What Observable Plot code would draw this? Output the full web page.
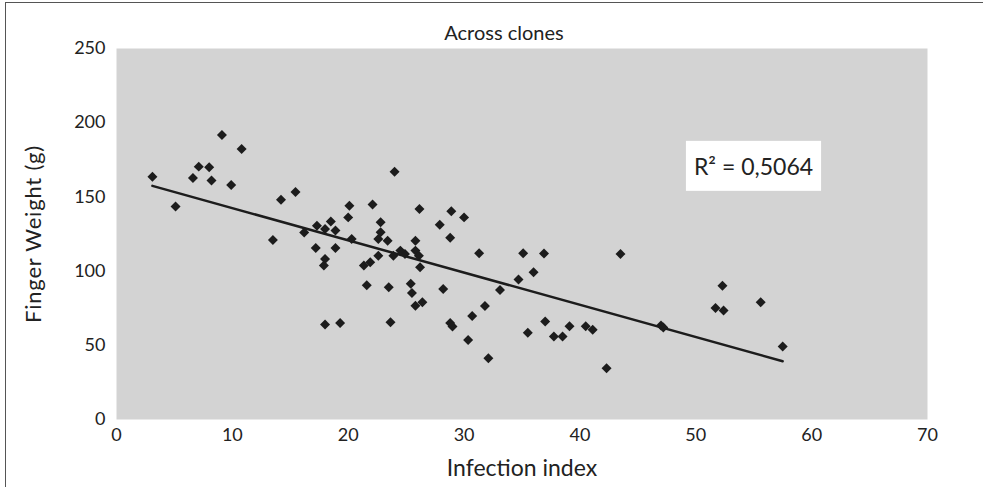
<!DOCTYPE html>
<html>
<head>
<meta charset="utf-8">
<script src="https://cdn.jsdelivr.net/npm/d3@7"></script>
<script src="https://cdn.jsdelivr.net/npm/@observablehq/plot@0.6"></script>
<style>
  html, body { margin: 0; padding: 0; background: white; }
  #wrap { position: relative; width: 983px; height: 487px; overflow: hidden; }
  #border { position: absolute; left: 5px; top: 2px; width: 1100px; height: 600px;
            border-top: 1px solid #555; border-left: 1px solid #555; pointer-events: none; }
</style>
</head>
<body>
<div id="wrap"><div id="border"></div></div>
<script>
// Infection index (x) and finger weight in g (y)
const infectionIndex = [
  3.1, 5.1, 6.6, 7.1, 8.0, 8.2, 9.9, 9.1, 10.8, 14.2,
  15.45, 13.5, 24.0, 20.1, 20.0, 22.1, 26.15, 18.5, 17.3, 16.2,
  18.0, 20.3, 22.8, 22.6, 23.4, 22.8, 17.2, 18.9, 18.0, 17.9,
  21.35, 21.9, 22.6, 23.9, 24.9, 25.8, 25.8, 21.6, 23.5, 25.4,
  25.5, 28.9, 30.0, 27.9, 28.8, 26.1, 26.2, 31.3, 35.1, 36.9,
  43.5, 36.0, 34.7, 33.1, 28.2, 26.4, 25.8, 23.65, 28.8, 29.0,
  30.7, 31.8, 30.35, 32.1, 35.5, 37.0, 37.75, 38.5, 39.1, 40.5,
  41.1, 42.3, 47.0, 47.2, 52.3, 51.7, 52.4, 55.6, 57.5, 18.0,
  19.3, 24.5, 18.9
];
const fingerWeight = [
  163.6, 143.6, 162.7, 170.4, 169.9, 161, 158, 191.7, 182.3, 148,
  153.3, 121, 167, 144, 136.2, 144.8, 141.9, 133.5, 130.6, 126,
  128.4, 121.7, 132.9, 121.7, 120.5, 126.1, 115.6, 115.6, 108.2, 103.7,
  103.7, 105.9, 110.4, 110.4, 111.6, 113.8, 120.5, 90.5, 89.1, 91.4,
  85.2, 140.3, 136.2, 131.3, 122.4, 110.4, 102.6, 112, 112, 111.8,
  111.6, 99.2, 94.4, 87.3, 88, 79, 76.6, 65.5, 65, 62.6,
  69.7, 76.5, 53.5, 41.3, 58.5, 66, 55.9, 55.9, 62.8, 62.8,
  60.4, 34.6, 63.3, 62, 90.2, 75.2, 73.4, 79, 49.2, 64,
  65.1, 113.8, 127.3
];
const xTicks = [0, 10, 20, 30, 40, 50, 60, 70];
const yTicks = [0, 50, 100, 150, 200, 250];
const chartTitle = "Across clones";
const xLabel = "Infection index";
const yLabel = "Finger Weight (g)";
const r2Label = "R\u00B2 = 0,5064";

const data = infectionIndex.map((x, i) => ({x, y: fingerWeight[i]}));

const ink = "#1c1c1c";
const txt = "#222";
const chart = Plot.plot({
  width: 983,
  height: 487,
  marginLeft: 116,
  marginRight: 56,
  marginTop: 48,
  marginBottom: 68,
  style: {fontFamily: "Lato, 'Open Sans', sans-serif", fontSize: "16px", color: txt, background: "white"},
  x: {domain: [0, 70]},
  y: {domain: [0, 250]},
  marks: [
    Plot.frame({fill: "#d3d3d3", stroke: "none"}),
    Plot.axisX({ticks: xTicks, tickSize: 0, tickPadding: 9, label: null, fill: txt}),
    Plot.axisY({ticks: yTicks, tickSize: 0, tickPadding: 11, label: null, fill: txt}),
    Plot.linearRegressionY(data, {x: "x", y: "y", ci: 0, stroke: ink, strokeWidth: 2.5}),
    Plot.dot(data, {x: "x", y: "y", symbol: "diamond2", r: 4.5, fill: ink, stroke: "none"}),
    Plot.text([r2Label], {frameAnchor: "top-right", dx: -174, dy: 119, fontSize: 23, fill: txt, textAnchor: "middle", lineAnchor: "middle", className: "r2"}),
    Plot.text([chartTitle], {frameAnchor: "top", dx: -18, dy: -15, fontSize: 20, fill: txt, textAnchor: "middle", lineAnchor: "middle"}),
    Plot.text([xLabel], {frameAnchor: "bottom", dy: 49, fontSize: 23, fill: txt, textAnchor: "middle", lineAnchor: "middle"}),
    Plot.text([yLabel], {frameAnchor: "left", dx: -83, rotate: -90, fontSize: 22, fill: txt, textAnchor: "middle", lineAnchor: "middle", className: "ylab"})
  ]
});
document.getElementById("wrap").prepend(chart);

d3.select(chart)
  .selectAll('g[aria-label="x-axis tick label"] text, g[aria-label="y-axis tick label"] text')
  .style("font-size", "18px");
d3.select(chart).selectAll("g.ylab text").style("letter-spacing", "0.8px");

// white box behind the R² annotation
const r2g = chart.querySelector("g.r2");
if (r2g) {
  const t = r2g.querySelector("text");
  const bb = t.getBBox();
  const tr = t.getAttribute("transform");
  const rect = document.createElementNS("http://www.w3.org/2000/svg", "rect");
  rect.setAttribute("x", bb.x - 8);
  rect.setAttribute("y", bb.y - 11);
  rect.setAttribute("width", bb.width + 16);
  rect.setAttribute("height", bb.height + 22);
  rect.setAttribute("fill", "white");
  if (tr) rect.setAttribute("transform", tr);
  r2g.insertBefore(rect, t);
}
</script>
</body>
</html>
